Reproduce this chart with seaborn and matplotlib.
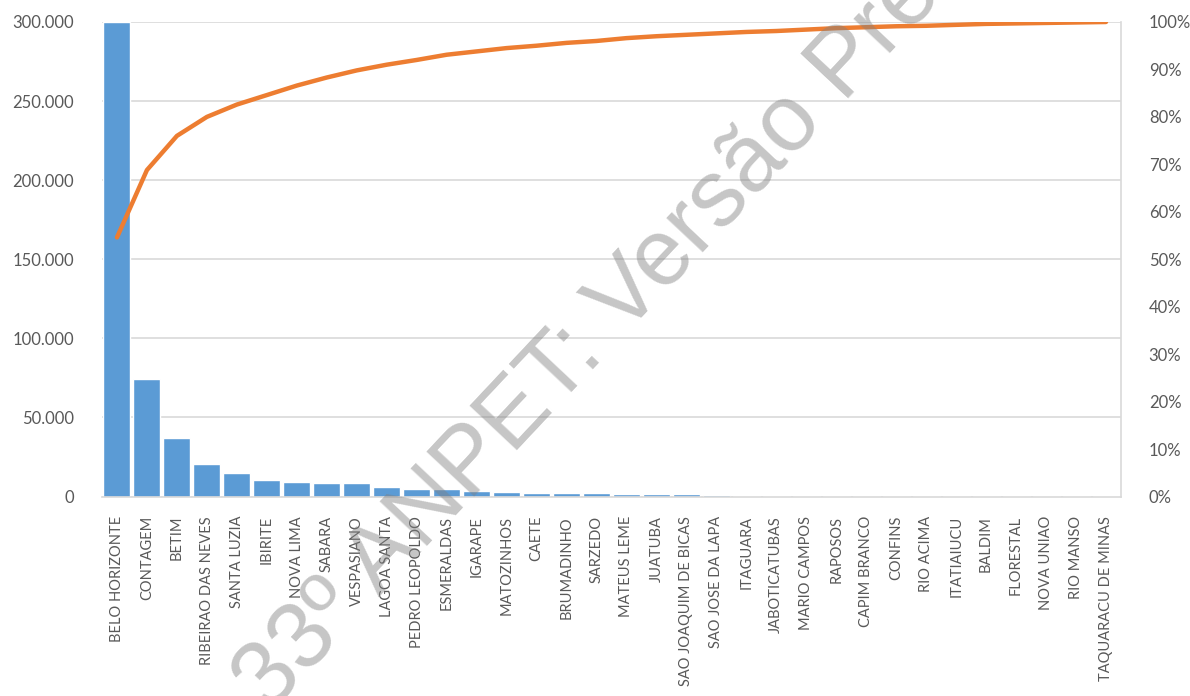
import numpy as np
import pandas as pd
import matplotlib as mpl
mpl.use("Agg")
import matplotlib.pyplot as plt
import matplotlib.ticker as mticker
import seaborn as sns

# =============================================
# 1. Dados
# =============================================
municipios = [
    "BELO HORIZONTE", "CONTAGEM", "BETIM", "RIBEIRAO DAS NEVES", "SANTA LUZIA",
    "IBIRITE", "NOVA LIMA", "SABARA", "VESPASIANO", "LAGOA SANTA",
    "PEDRO LEOPOLDO", "ESMERALDAS", "IGARAPE", "MATOZINHOS", "CAETE",
    "BRUMADINHO", "SARZEDO", "MATEUS LEME", "JUATUBA", "SAO JOAQUIM DE BICAS",
    "SAO JOSE DA LAPA", "ITAGUARA", "JABOTICATUBAS", "MARIO CAMPOS", "RAPOSOS",
    "CAPIM BRANCO", "CONFINS", "RIO ACIMA", "ITATIAIUCU", "BALDIM",
    "FLORESTAL", "NOVA UNIAO", "RIO MANSO", "TAQUARACU DE MINAS",
]

valores = [
    300000, 74200, 37200, 20600, 14700,
    10400, 9000, 8400, 8300, 5800,
    4700, 4500, 3500, 2600, 2500,
    2400, 2300, 1500, 1400, 1300,
    1200, 300, 280, 260, 240,
    220, 200, 190, 180, 170,
    160, 150, 140, 120,
]

# curva acumulada (%)
acumulado = [
    54.6, 68.8, 76.0, 80.0, 82.6,
    84.6, 86.6, 88.3, 89.8, 91.0,
    92.0, 93.1, 93.8, 94.5, 95.0,
    95.6, 96.0, 96.6, 97.0, 97.3,
    97.6, 97.9, 98.1, 98.4, 98.7,
    98.9, 99.1, 99.2, 99.4, 99.6,
    99.7, 99.8, 99.9, 100.0,
]

df = pd.DataFrame({"municipio": municipios, "valor": valores, "acumulado": acumulado})

# =============================================
# 2. Grafico
# =============================================
sns.set_style("white")
plt.rcParams["font.family"] = ["Lato", "DejaVu Sans"]
texto = "#595959"

fig = plt.figure(figsize=(11.9, 6.96), dpi=100)
ax = fig.add_axes([0.0857, 0.2866, 0.8563, 0.6818])

sns.barplot(data=df, x="municipio", y="valor", color="#5b9bd5",
            saturation=1, width=0.9, ax=ax, zorder=2)
ax.set_ylim(0, 300000)
ax.set_yticks(np.arange(0, 300001, 50000))
ax.yaxis.set_major_formatter(mticker.FuncFormatter(
    lambda v, p: f"{v:,.0f}".replace(",", ".")))
ax.grid(axis="y", color="#d9d9d9", linewidth=1.2, zorder=0)
ax.set_axisbelow(True)
ax.set(xlabel="", ylabel="")
ax.tick_params(axis="y", length=0, pad=20, labelsize=12, labelcolor=texto)
ax.tick_params(axis="x", length=0, pad=14, labelsize=10.5, labelcolor=texto,
               labelrotation=90)
for lado in ["left", "top", "right"]:
    ax.spines[lado].set_visible(False)
ax.spines["bottom"].set_color("#d9d9d9")
ax.spines["bottom"].set_linewidth(1.2)

ax2 = ax.twinx()
sns.lineplot(data=df, x="municipio", y="acumulado", color="#ed7d31",
             linewidth=3.2, sort=False, ax=ax2)
ax2.set_ylim(0, 100)
ax2.set_yticks(np.arange(0, 101, 10))
ax2.yaxis.set_major_formatter(mticker.FuncFormatter(lambda v, p: f"{v:.0f}%"))
ax2.set(xlabel="", ylabel="")
ax2.tick_params(axis="y", length=0, pad=20, labelsize=12, labelcolor=texto)
for lado in ["left", "top", "bottom"]:
    ax2.spines[lado].set_visible(False)
ax2.spines["right"].set_color("#d9d9d9")
ax2.spines["right"].set_linewidth(1.2)
ax.set_xlim(-0.5, len(municipios) - 0.5)

# marca d'agua
fig.text(0.575, 0.66, "33º ANPET: Versão Preliminar", family=["Liberation Sans", "DejaVu Sans"],
         fontsize=68, color="gray", alpha=0.45, rotation=46.8,
         ha="center", va="center", rotation_mode="anchor", zorder=10)

fig.savefig("out.png", dpi=100)
